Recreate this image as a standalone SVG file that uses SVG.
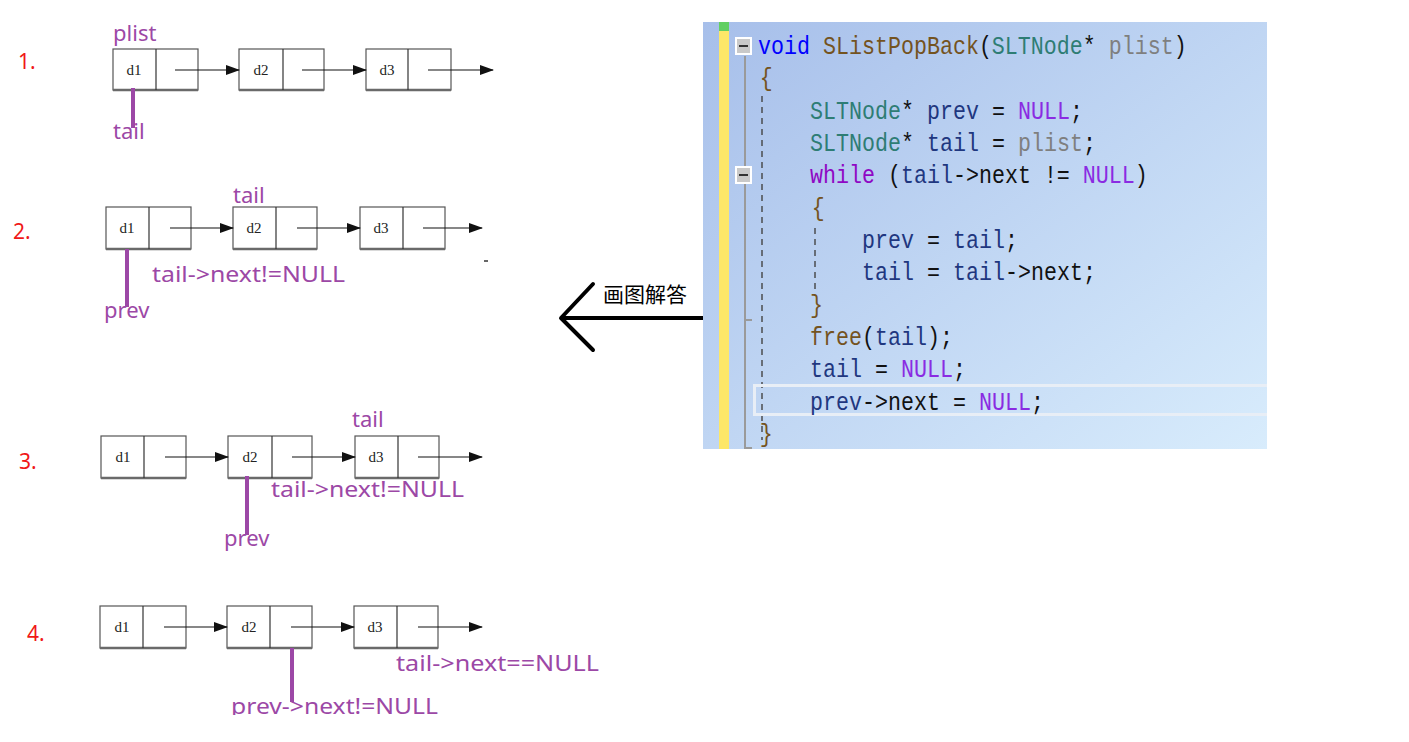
<svg xmlns="http://www.w3.org/2000/svg" width="1409" height="742" viewBox="0 0 1409 742">
<style>
.box{fill:#fff;stroke:#555;stroke-width:1.2}
.sh{stroke:#6a6a6a;stroke-width:2.5}
.dv{stroke:#333;stroke-width:1.2}
.nt{font-family:"Liberation Serif",serif;font-size:15px;fill:#222;text-anchor:middle}
.ar{stroke:#111;stroke-width:1.2;fill:none}
.ptr{stroke:#9c48a6;stroke-width:4}
.lb{font-family:"Noto Sans","Open Sans",sans-serif;font-size:22px;fill:#9c48a6}
.num{font-family:"Noto Sans","Open Sans",sans-serif;font-size:21px;fill:#f01818}
.code{font-family:"Liberation Mono","DejaVu Sans Mono",monospace;font-size:25px;fill:#111}
.kw{fill:#0000ff}.fn{fill:#74531f}.ty{fill:#2e7d74}.pa{fill:#7f7f7f}.lv{fill:#1f377f}.mc{fill:#8a2be2}.ck{fill:#8f08c4}
</style>
<defs>
<marker id="ah" markerUnits="userSpaceOnUse" markerWidth="14" markerHeight="10" refX="13" refY="5" orient="auto">
<path d="M0,0 L14,5 L0,10 Z" fill="#111"/>
</marker>
<linearGradient id="bg" x1="0" y1="0" x2="1" y2="1">
<stop offset="0" stop-color="#a7bfea"/>
<stop offset="1" stop-color="#d8ecfc"/>
</linearGradient>
<clipPath id="clipBottom"><rect x="0" y="0" width="1409" height="715"/></clipPath>
</defs>
<rect width="1409" height="742" fill="#fff"/>

<!-- numbers -->
<text class="num" x="18" y="69">1.</text>
<text class="num" x="13" y="239">2.</text>
<text class="num" x="19" y="469">3.</text>
<text class="num" x="27" y="641">4.</text>

<!-- Row 1 -->
<g id="r1n1"><rect class="box" x="113" y="49" width="85" height="41"/><line class="sh" x1="113" y1="90" x2="198" y2="90"/><line class="dv" x1="156" y1="49" x2="156" y2="90"/><text class="nt" x="134" y="75">d1</text></g>
<g id="r1n2"><rect class="box" x="239" y="49" width="85" height="41"/><line class="sh" x1="239" y1="90" x2="324" y2="90"/><line class="dv" x1="283" y1="49" x2="283" y2="90"/><text class="nt" x="261" y="75">d2</text></g>
<g id="r1n3"><rect class="box" x="366" y="49" width="85" height="41"/><line class="sh" x1="366" y1="90" x2="451" y2="90"/><line class="dv" x1="408" y1="49" x2="408" y2="90"/><text class="nt" x="387" y="75">d3</text></g>

<!-- Row 2 -->
<g id="r2n1"><rect class="box" x="106" y="207" width="85" height="42"/><line class="sh" x1="106" y1="249" x2="191" y2="249"/><line class="dv" x1="149" y1="207" x2="149" y2="249"/><text class="nt" x="127" y="233">d1</text></g>
<g id="r2n2"><rect class="box" x="233" y="207" width="84" height="42"/><line class="sh" x1="233" y1="249" x2="317" y2="249"/><line class="dv" x1="276" y1="207" x2="276" y2="249"/><text class="nt" x="254" y="233">d2</text></g>
<g id="r2n3"><rect class="box" x="360" y="207" width="85" height="42"/><line class="sh" x1="360" y1="249" x2="445" y2="249"/><line class="dv" x1="403" y1="207" x2="403" y2="249"/><text class="nt" x="381" y="233">d3</text></g>

<!-- Row 3 -->
<g id="r3n1"><rect class="box" x="101" y="436" width="85" height="42"/><line class="sh" x1="101" y1="478" x2="186" y2="478"/><line class="dv" x1="144" y1="436" x2="144" y2="478"/><text class="nt" x="123" y="462">d1</text></g>
<g id="r3n2"><rect class="box" x="228" y="436" width="84" height="42"/><line class="sh" x1="228" y1="478" x2="312" y2="478"/><line class="dv" x1="272" y1="436" x2="272" y2="478"/><text class="nt" x="250" y="462">d2</text></g>
<g id="r3n3"><rect class="box" x="355" y="436" width="84" height="42"/><line class="sh" x1="355" y1="478" x2="439" y2="478"/><line class="dv" x1="398" y1="436" x2="398" y2="478"/><text class="nt" x="376" y="462">d3</text></g>

<!-- Row 4 -->
<g id="r4n1"><rect class="box" x="100" y="606" width="86" height="42"/><line class="sh" x1="100" y1="648" x2="186" y2="648"/><line class="dv" x1="143" y1="606" x2="143" y2="648"/><text class="nt" x="122" y="632">d1</text></g>
<g id="r4n2"><rect class="box" x="227" y="606" width="85" height="42"/><line class="sh" x1="227" y1="648" x2="312" y2="648"/><line class="dv" x1="270" y1="606" x2="270" y2="648"/><text class="nt" x="249" y="632">d2</text></g>
<g id="r4n3"><rect class="box" x="354" y="606" width="84" height="42"/><line class="sh" x1="354" y1="648" x2="438" y2="648"/><line class="dv" x1="397" y1="606" x2="397" y2="648"/><text class="nt" x="375" y="632">d3</text></g>

<!-- connectors -->
<g id="connectors">
<line class="ar" x1="175" y1="70" x2="239" y2="70" marker-end="url(#ah)"/>
<line class="ar" x1="302" y1="70" x2="366" y2="70" marker-end="url(#ah)"/>
<line class="ar" x1="428" y1="70" x2="493" y2="70" marker-end="url(#ah)"/>
<line class="ar" x1="170" y1="228" x2="233" y2="228" marker-end="url(#ah)"/>
<line class="ar" x1="297" y1="228" x2="360" y2="228" marker-end="url(#ah)"/>
<line class="ar" x1="423" y1="228" x2="482" y2="228" marker-end="url(#ah)"/>
<line class="ar" x1="165" y1="457" x2="228" y2="457" marker-end="url(#ah)"/>
<line class="ar" x1="292" y1="457" x2="355" y2="457" marker-end="url(#ah)"/>
<line class="ar" x1="418" y1="457" x2="482" y2="457" marker-end="url(#ah)"/>
<line class="ar" x1="164" y1="627" x2="227" y2="627" marker-end="url(#ah)"/>
<line class="ar" x1="291" y1="627" x2="354" y2="627" marker-end="url(#ah)"/>
<line class="ar" x1="418" y1="627" x2="482" y2="627" marker-end="url(#ah)"/>
<line x1="484" y1="261" x2="488" y2="261" stroke="#333" stroke-width="1.5"/>
<line class="ptr" x1="133" y1="88" x2="133" y2="128"/>
<line class="ptr" x1="127" y1="249" x2="127" y2="307"/>
<line class="ptr" x1="247" y1="476" x2="247" y2="535"/>
<line class="ptr" x1="292" y1="648" x2="292" y2="702"/>
<path d="M704,318 L562,318 M593,284 L561,318 L593,350" fill="none" stroke="#000" stroke-width="4" stroke-linecap="round" stroke-linejoin="round"/>
</g>

<!-- purple labels -->
<text class="lb" x="113" y="41">plist</text>
<text class="lb" x="113" y="139">tail</text>
<text class="lb" x="233" y="203">tail</text>
<text class="lb" x="152" y="282" textLength="193" lengthAdjust="spacingAndGlyphs">tail-&gt;next!=NULL</text>
<text class="lb" x="104" y="318">prev</text>
<text class="lb" x="352" y="427">tail</text>
<text class="lb" x="271" y="497" textLength="193" lengthAdjust="spacingAndGlyphs">tail-&gt;next!=NULL</text>
<text class="lb" x="224" y="546">prev</text>
<text class="lb" x="396" y="671" textLength="203" lengthAdjust="spacingAndGlyphs">tail-&gt;next==NULL</text>
<text class="lb" x="231" y="714" textLength="207" lengthAdjust="spacingAndGlyphs" clip-path="url(#clipBottom)">prev-&gt;next!=NULL</text>

<text x="603" y="302" font-family="Noto Sans CJK SC, sans-serif" font-size="21" fill="#000">画图解答</text>

<!-- code panel -->
<g id="code">
<rect x="703" y="22" width="564" height="427" fill="url(#bg)"/>
<rect x="719" y="22" width="10" height="427" fill="#fde768"/>
<rect x="719" y="22" width="10" height="9" fill="#62cf62"/>
<path d="M745,56 V448 H752 M745,320 H752" fill="none" stroke="#9a9a9a" stroke-width="2"/>
<line x1="762" y1="96" x2="762" y2="440" stroke="#444" stroke-width="1.4" stroke-dasharray="6,5"/>
<line x1="815" y1="228" x2="815" y2="292" stroke="#444" stroke-width="1.4" stroke-dasharray="6,5"/>
<rect x="736" y="38" width="15" height="16" fill="#c9c9c9" stroke="#fff" stroke-width="2"/>
<line x1="739" y1="46" x2="748" y2="46" stroke="#333" stroke-width="2"/>
<rect x="736" y="167" width="15" height="16" fill="#c9c9c9" stroke="#fff" stroke-width="2"/>
<line x1="739" y1="175" x2="748" y2="175" stroke="#333" stroke-width="2"/>
<path d="M1267,385.5 H754.5 V414.5 H1267" fill="none" stroke="#e8eef6" stroke-width="3"/>
<g transform="translate(758 0) scale(0.8667 1)" class="code">
<text y="54" xml:space="preserve"><tspan class="kw">void</tspan> <tspan class="fn">SListPopBack</tspan>(<tspan class="ty">SLTNode</tspan>* <tspan class="pa">plist</tspan>)</text>
<text y="86" x="2" class="fn">{</text>
<text y="119" x="60" xml:space="preserve"><tspan class="ty">SLTNode</tspan>* <tspan class="lv">prev</tspan> = <tspan class="mc">NULL</tspan>;</text>
<text y="151" x="60" xml:space="preserve"><tspan class="ty">SLTNode</tspan>* <tspan class="lv">tail</tspan> = <tspan class="pa">plist</tspan>;</text>
<text y="183" x="60" xml:space="preserve"><tspan class="ck">while</tspan> (<tspan class="lv">tail</tspan>-&gt;next != <tspan class="mc">NULL</tspan>)</text>
<text y="216" x="62" class="fn">{</text>
<text y="248" x="120" xml:space="preserve"><tspan class="lv">prev</tspan> = <tspan class="lv">tail</tspan>;</text>
<text y="280" x="120" xml:space="preserve"><tspan class="lv">tail</tspan> = <tspan class="lv">tail</tspan>-&gt;next;</text>
<text y="313" x="60" class="fn">}</text>
<text y="345" x="60" xml:space="preserve"><tspan class="fn">free</tspan>(<tspan class="lv">tail</tspan>);</text>
<text y="377" x="60" xml:space="preserve"><tspan class="lv">tail</tspan> = <tspan class="mc">NULL</tspan>;</text>
<text y="410" x="60" xml:space="preserve"><tspan class="lv">prev</tspan>-&gt;next = <tspan class="mc">NULL</tspan>;</text>
<text y="442" x="2" class="fn">}</text>
</g>
</g>
</svg>
